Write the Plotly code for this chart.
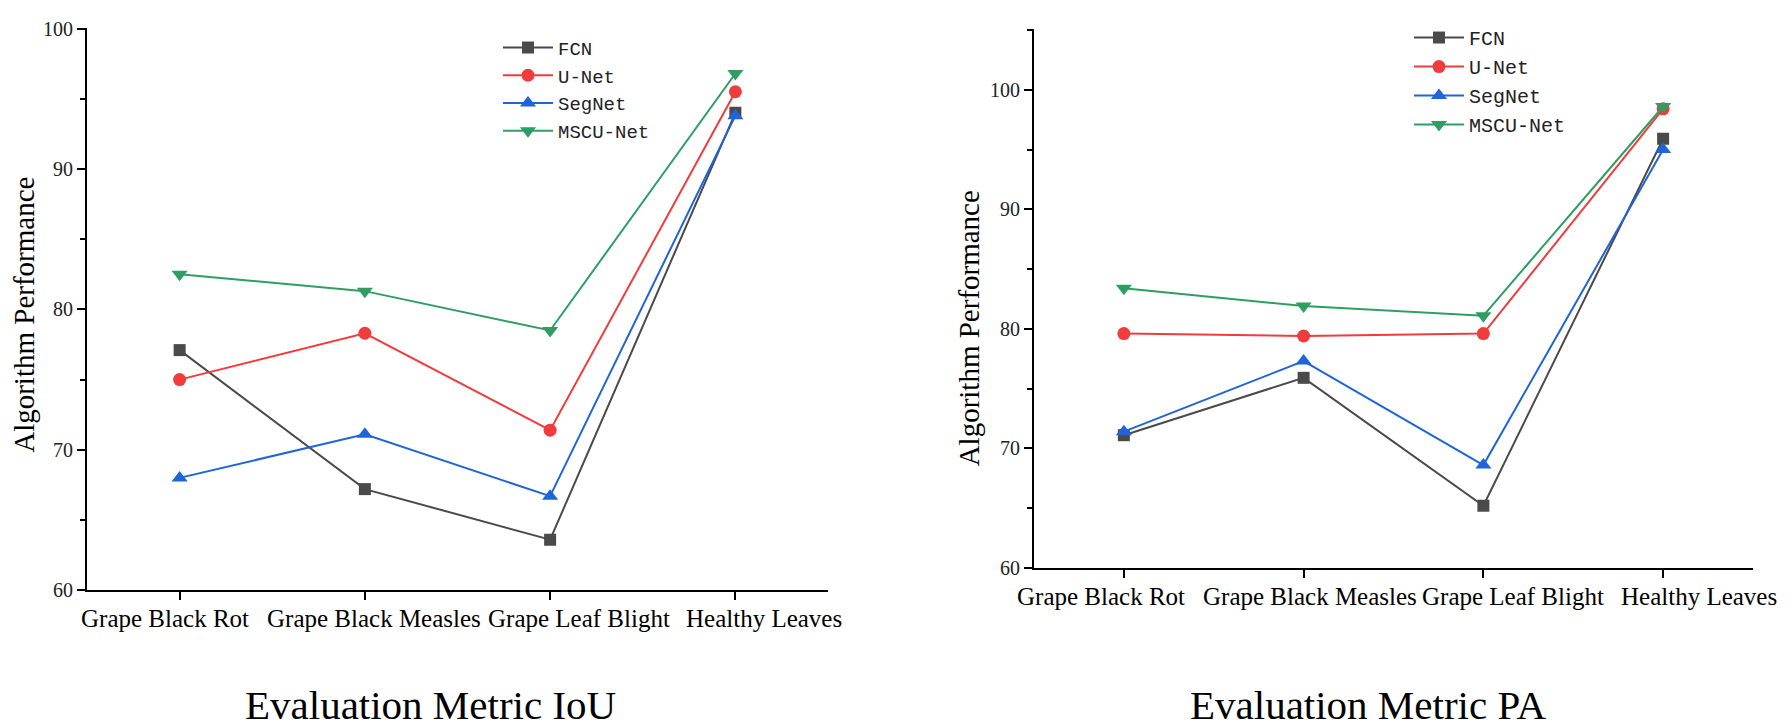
from plotly.subplots import make_subplots
import plotly.graph_objects as go

categories = ['Grape Black Rot', 'Grape Black Measles', 'Grape Leaf Blight', 'Healthy Leaves']
models = ['FCN', 'U-Net', 'SegNet', 'MSCU-Net']

# IoU values (left chart)
iou_fcn = [77.1, 67.2, 63.6, 94.0]
iou_unet = [75.0, 78.3, 71.4, 95.5]
iou_segnet = [68.0, 71.1, 66.7, 93.8]
iou_mscu = [82.5, 81.3, 78.5, 96.8]

# PA values (right chart)
pa_fcn = [71.1, 75.9, 65.2, 95.9]
pa_unet = [79.6, 79.4, 79.6, 98.4]
pa_segnet = [71.4, 77.3, 68.6, 95.0]
pa_mscu = [83.4, 81.9, 81.1, 98.6]

colors = ['#4a4a4a', '#f03c3c', '#1f64d8', '#2e9e63']
symbols = ['square', 'circle', 'triangle-up', 'triangle-down']
sizes = [12, 13, 14, 14]

W, H = 1792, 728
XOFF = 8  # page body margin pushes the figure right
serif = 'Liberation Serif, Times New Roman, serif'
mono = 'Liberation Mono, Courier New, monospace'


# pixel -> paper helpers
def px(x):
    return (x - XOFF) / W


def py(y):
    return 1 - y / H


fig = make_subplots(rows=1, cols=2)

iou = [iou_fcn, iou_unet, iou_segnet, iou_mscu]
pa = [pa_fcn, pa_unet, pa_segnet, pa_mscu]

for i, m in enumerate(models):
    fig.add_trace(go.Scatter(
        x=categories, y=iou[i], mode='lines+markers', name=m,
        line=dict(color=colors[i], width=2),
        marker=dict(symbol=symbols[i], size=sizes[i], color=colors[i]),
        legend='legend'), row=1, col=1)
for i, m in enumerate(models):
    fig.add_trace(go.Scatter(
        x=categories, y=pa[i], mode='lines+markers', name=m,
        line=dict(color=colors[i], width=2),
        marker=dict(symbol=symbols[i], size=sizes[i], color=colors[i]),
        legend='legend2'), row=1, col=2)

axis_common = dict(showline=True, linecolor='black', linewidth=2, ticks='outside',
                   tickcolor='black', tickwidth=2, ticklen=8, showgrid=False,
                   zeroline=False)

# category labels are set as annotations below (Origin spreads them apart)
fig.update_xaxes(**axis_common, range=[-0.5, 3.5], showticklabels=False)
fig.update_yaxes(**axis_common, dtick=10, ticklabeloverflow='allow',
                 tickfont=dict(family=serif, size=20, color='#222'),
                 minor=dict(ticks='outside', dtick=5, ticklen=5, tickwidth=2, tickcolor='black'))

fig.update_xaxes(domain=[px(87), px(828)], row=1, col=1)
fig.update_xaxes(domain=[px(1034), px(1753)], row=1, col=2)
fig.update_yaxes(domain=[py(589), py(9.6)], range=[60, 100.02], row=1, col=1)
fig.update_yaxes(domain=[py(566), py(10.7)], range=[60, 105.05], row=1, col=2)

legend_common = dict(bgcolor='rgba(0,0,0,0)', itemwidth=50, tracegroupgap=0,
                     xanchor='left', yanchor='top')

annotations = [
    dict(text='Algorithm Performance', x=px(24), y=py(305), xref='paper', yref='paper',
         xanchor='center', yanchor='middle',
         textangle=-90, showarrow=False, font=dict(family=serif, size=29, color='black')),
    dict(text='Algorithm Performance', x=px(969), y=py(319), xref='paper', yref='paper',
         xanchor='center', yanchor='middle',
         textangle=-90, showarrow=False, font=dict(family=serif, size=29, color='black')),
    dict(text='Evaluation Metric IoU', x=px(430), y=0, xref='paper', yref='paper',
         xanchor='center', yanchor='bottom', yshift=-5, showarrow=False,
         font=dict(family=serif, size=41, color='black')),
    dict(text='Evaluation Metric PA', x=px(1368), y=0, xref='paper', yref='paper',
         xanchor='center', yanchor='bottom', yshift=-5, showarrow=False,
         font=dict(family=serif, size=41, color='black')),
]

# x category labels, slightly offset from their ticks like in the original
left_shift = [-15, 9, 29, 29]
right_shift = [-23, 6, 30, 36]
for c, s in zip(categories, left_shift):
    annotations.append(dict(text=c, x=c, xref='x', y=py(618), yref='paper', xshift=s,
                            xanchor='center', yanchor='middle', showarrow=False,
                            font=dict(family=serif, size=25, color='black')))
for c, s in zip(categories, right_shift):
    annotations.append(dict(text=c, x=c, xref='x2', y=py(596), yref='paper', xshift=s,
                            xanchor='center', yanchor='middle', showarrow=False,
                            font=dict(family=serif, size=25, color='black')))

fig.update_layout(
    width=W, height=H,
    margin=dict(l=0, r=0, t=0, b=0),
    plot_bgcolor='white', paper_bgcolor='white',
    legend=dict(**legend_common, x=px(498), y=py(10),
                font=dict(family=mono, size=19, color='#222')),
    legend2=dict(**legend_common, x=px(1409), y=py(-1),
                 font=dict(family=mono, size=20, color='#222')),
    annotations=annotations,
)

fig.write_html("out.html")
